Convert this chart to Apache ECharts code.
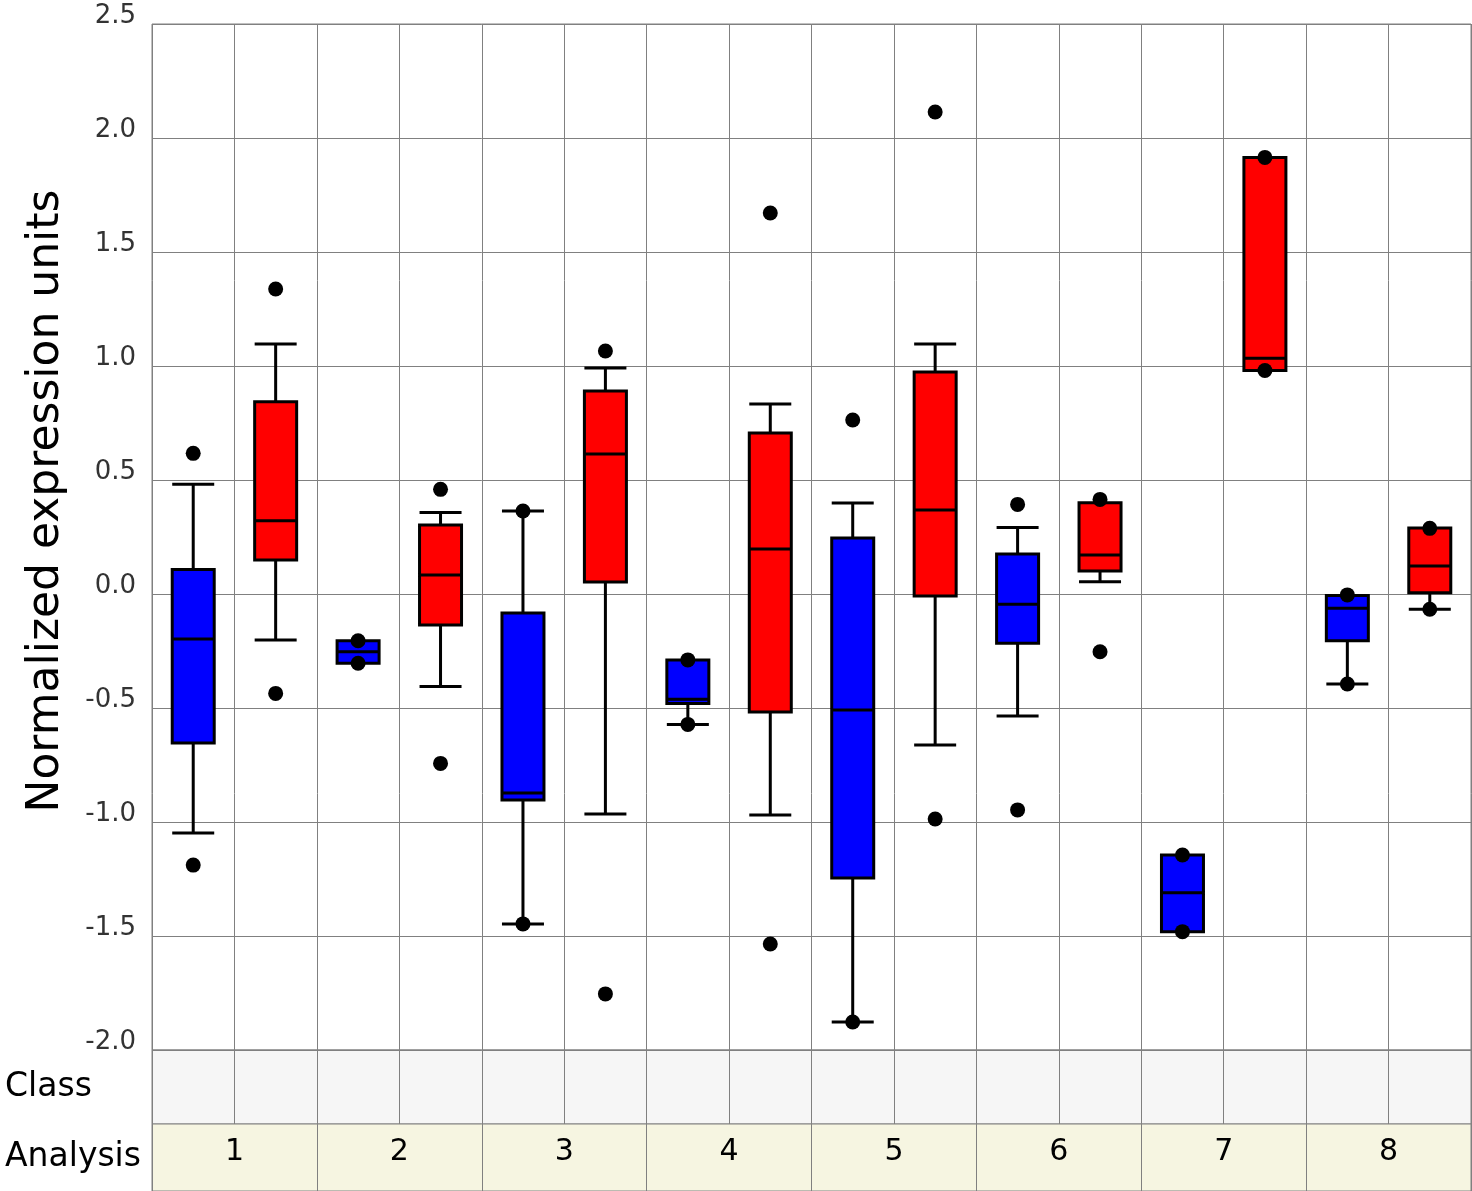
<!DOCTYPE html>
<html><head><meta charset="utf-8">
<script src="https://cdn.jsdelivr.net/npm/echarts@6/dist/echarts.min.js"></script>
<style>html,body{margin:0;padding:0;background:#fff}#c{width:1472px;height:1191px}</style>
</head><body><div id="c"></div>
<script>
// ---- data ----
const analyses = ['1','2','3','4','5','6','7','8'];
const classNames = ['blue','red'];
const columns = ['1-blue','1-red','2-blue','2-red','3-blue','3-red','4-blue','4-red','5-blue','5-red','6-blue','6-red','7-blue','7-red','8-blue','8-red'];
const boxMin    = [-1.048, -0.202, -0.304, -0.406, -1.447, -0.965, -0.572, -0.969, -1.877, -0.662, -0.535,  0.054, -1.481,  0.980, -0.395, -0.067];
const boxQ1     = [-0.654,  0.149, -0.304, -0.136, -0.904,  0.053, -0.480, -0.518, -1.246, -0.009, -0.216,  0.101, -1.481,  0.980, -0.205,  0.006];
const boxMedian = [-0.197,  0.321, -0.253,  0.083, -0.873,  0.614, -0.462,  0.197, -0.509,  0.368, -0.045,  0.171, -1.310,  1.034, -0.063,  0.123];
const boxQ3     = [ 0.108,  0.843, -0.205,  0.303, -0.083,  0.890, -0.289,  0.706,  0.246,  0.974,  0.175,  0.400, -1.145,  1.915, -0.007,  0.290];
const boxMax    = [ 0.481,  1.096, -0.205,  0.358,  0.364,  0.991, -0.289,  0.833,  0.399,  1.096,  0.292,  0.400, -1.145,  1.915, -0.007,  0.290];
const dotHigh   = [ 0.617,  1.338, -0.205,  0.459,  0.364,  1.066, -0.289,  1.671,  0.763,  2.114,  0.393,  0.415, -1.145,  1.915, -0.004,  0.288];
const dotLow    = [-1.189, -0.436, -0.304, -0.743, -1.447, -1.754, -0.572, -1.535, -1.877, -0.987, -0.947, -0.253, -1.481,  0.980, -0.395, -0.067];
const yMin = -2.0, yMax = 2.5, yStep = 0.5;
const yTitle = 'Normalized expression units';
const classRowLabel = 'Class';
const analysisRowLabel = 'Analysis';

// ---- chart ----
const FONT = 'DejaVu Sans';
const GRID_LINE = '#808080';
const colorFor = {blue: '#0000ff', red: '#ff0000'};

const boxData = columns.map((c, i) => ({
  value: [boxMin[i], boxQ1[i], boxMedian[i], boxQ3[i], boxMax[i]],
  itemStyle: {color: colorFor[classNames[i % 2]], borderColor: '#000', borderWidth: 3}
}));
const dots = [];
columns.forEach((c, i) => { dots.push([i, dotHigh[i]]); dots.push([i, dotLow[i]]); });

const chart = echarts.init(document.getElementById('c'), null, {renderer: 'canvas'});
chart.setOption({
  animation: false,
  backgroundColor: '#fff',
  grid: [
    {left: 152, right: 1, top: 24, height: 1026, show: true, borderColor: GRID_LINE, borderWidth: 1, backgroundColor: '#fff'},
    {left: 152, right: 1, top: 1050, height: 74, show: true, borderColor: GRID_LINE, borderWidth: 1, backgroundColor: '#f6f6f6'},
    {left: 152, right: 1, top: 1124, height: 67, show: true, borderColor: GRID_LINE, borderWidth: 1, backgroundColor: '#f6f5e1'}
  ],
  xAxis: [
    {gridIndex: 0, type: 'category', data: columns, axisLabel: {show: false}, axisTick: {show: false}, axisLine: {show: false},
     splitLine: {show: true, interval: 0, lineStyle: {color: GRID_LINE, width: 1}}},
    {gridIndex: 1, type: 'category', data: columns, axisLabel: {show: false}, axisTick: {show: false}, axisLine: {show: false},
     splitLine: {show: true, interval: 0, lineStyle: {color: GRID_LINE, width: 1}}},
    {gridIndex: 2, type: 'category', data: analyses, position: 'top', axisTick: {show: false}, axisLine: {show: false},
     axisLabel: {inside: true, interval: 0, margin: 28, verticalAlign: 'middle', fontSize: 30, fontFamily: FONT, color: '#000'},
     splitLine: {show: true, interval: 0, lineStyle: {color: GRID_LINE, width: 1}}}
  ],
  yAxis: [
    {gridIndex: 0, type: 'value', min: yMin, max: yMax, interval: yStep,
     axisLine: {show: false}, axisTick: {show: false},
     axisLabel: {formatter: v => v.toFixed(1), fontSize: 26, fontFamily: FONT, color: '#333', margin: 16,
                 verticalAlign: 'bottom', lineHeight: 16, showMinLabel: true, showMaxLabel: true},
     splitLine: {show: true, lineStyle: {color: GRID_LINE, width: 1}}},
    {gridIndex: 1, type: 'category', data: [classRowLabel], axisLine: {show: false}, axisTick: {show: false}, splitLine: {show: false},
     axisLabel: {align: 'left', margin: 147, fontSize: 33, fontFamily: FONT, color: '#000'}},
    {gridIndex: 2, type: 'category', data: [analysisRowLabel], axisLine: {show: false}, axisTick: {show: false}, splitLine: {show: false},
     axisLabel: {align: 'left', margin: 147, fontSize: 33, fontFamily: FONT, color: '#000', padding: [6, 0, 0, 0]}}
  ],
  graphic: [{
    type: 'text', x: 47, y: 501, rotation: Math.PI / 2,
    style: {text: yTitle, fontSize: 44, fontFamily: FONT, fill: '#000', align: 'center', verticalAlign: 'middle'}
  }],
  series: [
    {type: 'boxplot', xAxisIndex: 0, yAxisIndex: 0, data: boxData, boxWidth: [42, 42], silent: true, z: 3},
    {type: 'scatter', xAxisIndex: 0, yAxisIndex: 0, data: dots, symbol: 'circle', symbolSize: 15,
     itemStyle: {color: '#000', opacity: 1}, silent: true, z: 5}
  ]
});
</script></body></html>
